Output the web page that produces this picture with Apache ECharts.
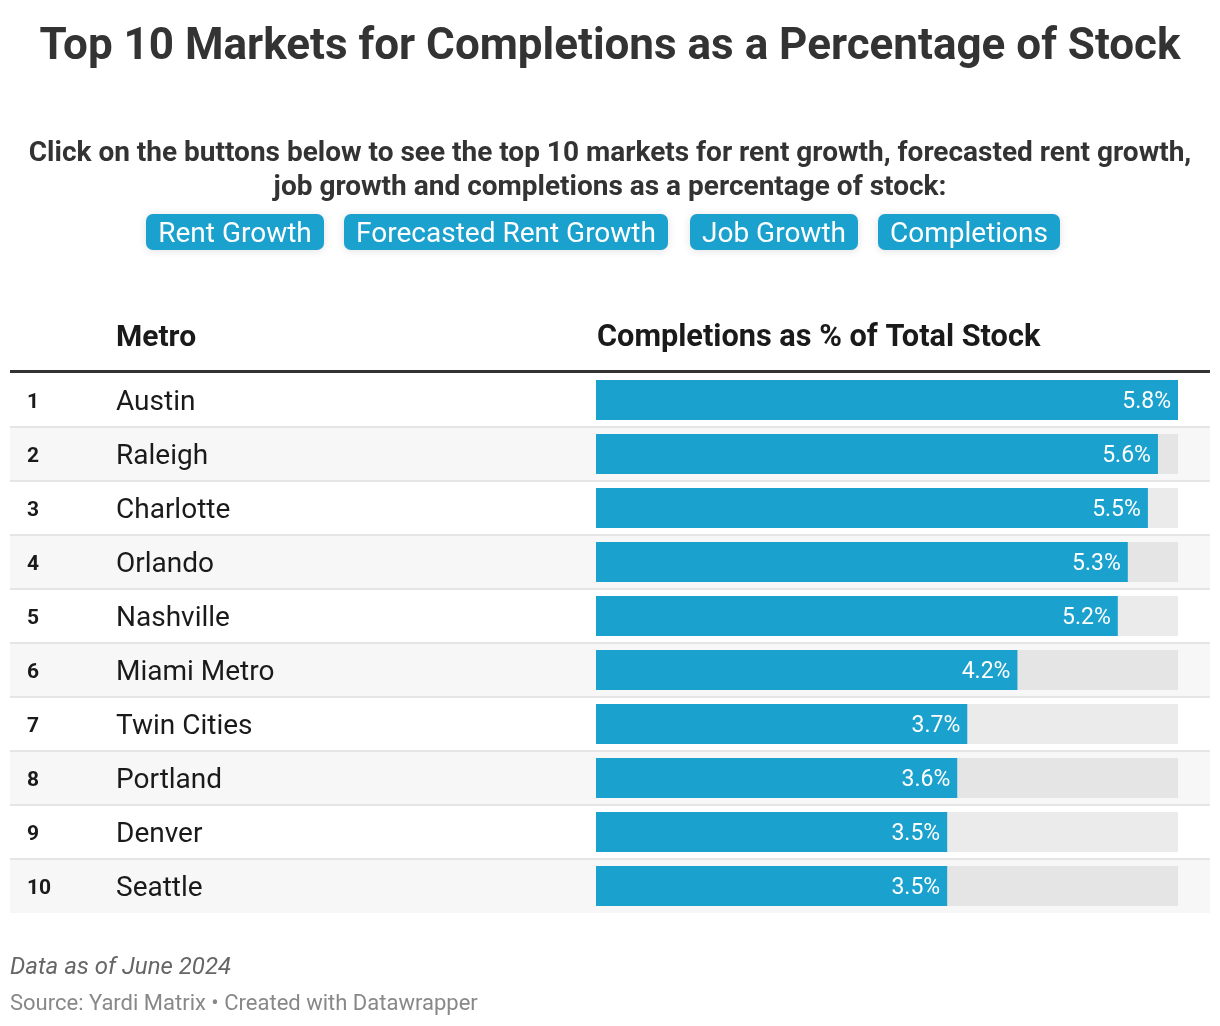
<!DOCTYPE html>
<html>
<head>
<meta charset="utf-8">
<script src="https://cdn.jsdelivr.net/npm/echarts@6/dist/echarts.min.js"></script>
<style>
html,body{margin:0;padding:0;background:#fff;}
#chart{width:1220px;height:1026px;}
</style>
</head>
<body>
<div id="chart"></div>
<script>
var ranks = ['1','2','3','4','5','6','7','8','9','10'];
var metros = ['Austin','Raleigh','Charlotte','Orlando','Nashville','Miami Metro','Twin Cities','Portland','Denver','Seattle'];
var completions = [5.8, 5.6, 5.5, 5.3, 5.2, 4.2, 3.7, 3.6, 3.5, 3.5];
var buttons = ['Rent Growth','Forecasted Rent Growth','Job Growth','Completions'];

var FONT = 'Roboto, "Noto Sans", sans-serif';
var BLUE = '#1aa1cd';
var maxVal = Math.max.apply(null, completions);
var trackData = completions.map(function(){ return maxVal; });

var chart = echarts.init(document.getElementById('chart'), null, {renderer:'canvas'});

var btnX = [146, 344, 690, 878];
var btnW = [178, 324, 168, 182];
var btnGraphics = buttons.map(function(b, i){
  return {
    type:'group', x: btnX[i], y: 214,
    children:[
      {type:'rect', shape:{x:0,y:0,width:btnW[i],height:36,r:7},
       style:{fill:BLUE, shadowBlur:8, shadowColor:'rgba(0,0,0,0.12)', shadowOffsetY:1}},
      {type:'text', style:{text:b, x:btnW[i]/2, y:21, align:'center', verticalAlign:'middle',
        fill:'#fff', font:'400 28px ' + FONT}}
    ]
  };
});

var option = {
  backgroundColor:'#fff',
  animation:false,
  graphic: btnGraphics.concat([
    {type:'text', x:610, y:48, style:{text:'Top 10 Markets for Completions as a Percentage of Stock',
      align:'center', verticalAlign:'middle', font:'bold 44px ' + FONT, fill:'#333'}},
    {type:'text', x:610, y:154, style:{text:'Click on the buttons below to see the top 10 markets for rent growth, forecasted rent growth,',
      align:'center', verticalAlign:'middle', font:'bold 28px ' + FONT, fill:'#333'}},
    {type:'text', x:610, y:188, style:{text:'job growth and completions as a percentage of stock:',
      align:'center', verticalAlign:'middle', font:'bold 28px ' + FONT, fill:'#333'}},
    {type:'text', x:116, y:338, style:{text:'Metro', verticalAlign:'middle', font:'bold 30px ' + FONT, fill:'#1a1a1a'}},
    {type:'text', x:597, y:338, style:{text:'Completions as % of Total Stock', verticalAlign:'middle', font:'bold 30.7px ' + FONT, fill:'#1a1a1a'}},
    {type:'rect', shape:{x:10, y:370, width:1200, height:3}, style:{fill:'#333'}},
    {type:'text', x:10, y:968, style:{text:'Data as of June 2024', verticalAlign:'middle', font:'italic 400 24px ' + FONT, fill:'#666'}},
    {type:'text', x:10, y:1004, style:{text:'Source: Yardi Matrix \u2022 Created with Datawrapper', verticalAlign:'middle', font:'400 22px ' + FONT, fill:'#888'}}
  ]),
  grid:[
    {left:596, top:373, width:582, height:540, containLabel:false},
    {left:10, top:373, width:1200, height:540, containLabel:false}
  ],
  xAxis:[
    {type:'value', gridIndex:0, min:0, max:maxVal, show:false},
    {type:'value', gridIndex:1, min:0, max:1, show:false}
  ],
  yAxis:[
    {type:'category', gridIndex:0, data:metros, inverse:true,
     axisLine:{show:false}, axisTick:{show:false}, splitLine:{show:false},
     axisLabel:{
       margin:569, align:'left',
       formatter:function(v, idx){ return '{r|' + ranks[idx] + '}{n|' + v + '}'; },
       rich:{
         r:{fontFamily:FONT, fontSize:21, fontWeight:'bold', color:'#1a1a1a', width:89, padding:[6,0,0,0]},
         n:{fontFamily:FONT, fontSize:28, color:'#1a1a1a', padding:[6,0,0,0]}
       }
     }
    },
    {type:'category', gridIndex:1, data:metros, inverse:true, z:0,
     axisLine:{show:false}, axisTick:{show:false}, axisLabel:{show:false},
     splitArea:{show:true, areaStyle:{color:['#ffffff','#f7f7f7']}},
     splitLine:{show:true, showMinLine:false, showMaxLine:false, lineStyle:{color:'#e5e5e5', width:2}}
    }
  ],
  series:[
    {type:'bar', xAxisIndex:0, yAxisIndex:0, data:trackData, barWidth:40, barGap:'-100%', silent:true,
     itemStyle:{color:function(p){ return p.dataIndex % 2 === 0 ? '#ebebeb' : '#e5e5e5'; }},
     z:2},
    {type:'bar', xAxisIndex:0, yAxisIndex:0, data:completions, barWidth:40, barGap:'-100%',
     itemStyle:{color:BLUE},
     label:{show:true, position:'insideRight', distance:7, color:'#fff', fontFamily:FONT, fontSize:23,
       offset:[0,2],
       formatter:function(p){ return p.value.toFixed(1) + '%'; }},
     z:3}
  ]
};
chart.setOption(option);
</script>
</body>
</html>
